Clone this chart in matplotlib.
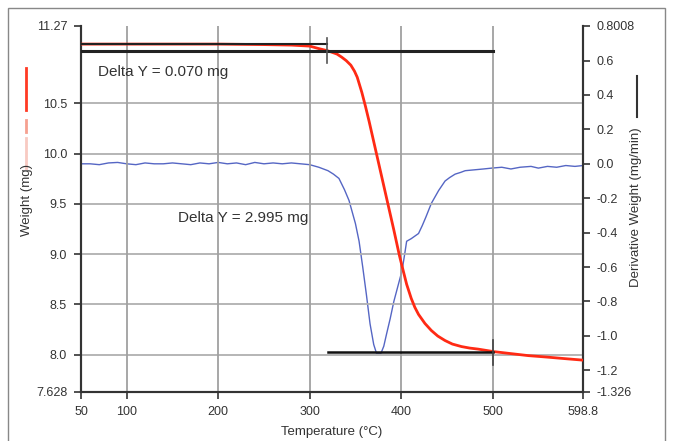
import matplotlib
matplotlib.use('Agg')
import matplotlib.pyplot as plt
from matplotlib.lines import Line2D
from matplotlib.patches import Rectangle

plt.rcParams['font.family'] = ['Liberation Sans', 'DejaVu Sans']

# weight curve (mg) vs temperature (C)
weight_temp = [50, 100, 150, 200, 250, 280, 300, 310, 319, 324, 330, 335, 340, 345, 349,
               352, 357, 361, 365, 368, 372, 379, 386, 392, 398, 401, 406, 411, 415,
               419, 426, 433, 440, 448, 456, 466, 475, 484, 501, 520, 539, 560, 579,
               598.8]
weight_mg = [11.09, 11.09, 11.09, 11.09, 11.085, 11.08, 11.07, 11.045, 11.025, 11.01,
             10.99, 10.96, 10.925, 10.88, 10.82, 10.76, 10.61, 10.47, 10.32, 10.20,
             10.04, 9.76, 9.48, 9.24, 8.99, 8.88, 8.70, 8.56, 8.47, 8.40, 8.31, 8.24,
             8.185, 8.14, 8.105, 8.08, 8.065, 8.055, 8.03, 8.01, 7.99, 7.975, 7.96,
             7.945]

# derivative weight curve (mg/min)
deriv_temp = [50, 60, 70, 80, 90, 100, 110, 120, 130, 140, 150, 160, 170, 180, 190,
              200, 210, 220, 230, 240, 250, 260, 270, 280, 290, 300, 310, 320, 326,
              332, 338, 343, 350, 354, 358, 362, 366, 370, 373, 378, 381, 384, 388,
              392, 397, 401, 404, 406, 411, 415, 419, 423, 427, 433, 441, 448, 453,
              459, 465, 470, 480, 490, 499, 510, 520, 530, 542, 550, 560, 570, 580,
              590, 598.8]
deriv_val = [0.00, 0.00, -0.005, 0.005, 0.008, 0.0, -0.005, 0.005, 0.0, 0.0, 0.005,
             0.0, -0.005, 0.005, 0.0, 0.008, 0.0, 0.005, -0.005, 0.008, 0.0, 0.005,
             0.0, 0.005, 0.0, -0.005, -0.02, -0.04, -0.06, -0.085, -0.15, -0.213,
             -0.347, -0.45, -0.60, -0.76, -0.93, -1.05, -1.10, -1.10, -1.06, -0.99,
             -0.90, -0.80, -0.70, -0.62, -0.52, -0.45, -0.435, -0.42, -0.405, -0.36,
             -0.31, -0.23, -0.155, -0.10, -0.08, -0.06, -0.05, -0.04, -0.035, -0.03,
             -0.025, -0.02, -0.03, -0.02, -0.015, -0.025, -0.015, -0.02, -0.01, -0.015,
             -0.01]

# delta Y markers
step1_temp = [50, 319]
step1_top = 11.09
step_base = 11.02
base_temp = [50, 500]
step2_temp = [320, 500]
step2_bottom = 8.025

x_ticks = [50, 100, 200, 300, 400, 500, 598.8]
x_labels = ['50', '100', '200', '300', '400', '500', '598.8']
w_ticks = [7.628, 8.0, 8.5, 9.0, 9.5, 10.0, 10.5, 11.27]
w_labels = ['7.628', '8.0', '8.5', '9.0', '9.5', '10.0', '10.5', '11.27']
d_ticks = [-1.326, -1.2, -1.0, -0.8, -0.6, -0.4, -0.2, 0.0, 0.2, 0.4, 0.6, 0.8008]
d_labels = ['-1.326', '-1.2', '-1.0', '-0.8', '-0.6', '-0.4', '-0.2', '0.0', '0.2',
            '0.4', '0.6', '0.8008']

txt = '#333333'
W, H = 673, 441
fig = plt.figure(figsize=(W / 100, H / 100), dpi=100)
ax = fig.add_axes([81 / W, 1 - 392 / H, 502 / W, 366 / H])
ax2 = ax.twinx()
ax.set_zorder(ax2.get_zorder() + 1)
ax.patch.set_visible(False)

ax.set_xlim(50, 598.8)
ax.set_ylim(7.628, 11.27)
ax2.set_ylim(-1.326, 0.8008)

# grid
for v in [8.0, 8.5, 9.0, 9.5, 10.0, 10.5]:
    ax.axhline(v, color='#b0b0b0', lw=1.3, zorder=0)
for v in [100, 200, 300, 400, 500]:
    ax.axvline(v, color='#a0a0a0', lw=1.3, zorder=0)

ax2.plot(deriv_temp, deriv_val, color='#5566c4', lw=1.0)
ax.plot(weight_temp, weight_mg, color='#ff2a14', lw=2.0, zorder=3)

# delta markers
ax.plot(step1_temp, [step1_top, step1_top], color='#222222', lw=1.5, zorder=4)
ax.plot(base_temp, [step_base, step_base], color='#222222', lw=2.2, zorder=4)
ax.plot([step1_temp[1]] * 2, [11.15, 10.90], color='#555555', lw=1.2, zorder=4)
ax.plot(step2_temp, [step2_bottom, step2_bottom], color='#111111', lw=1.8, zorder=4)
ax.plot([step2_temp[1]] * 2, [8.15, 7.90], color='#444444', lw=1.2, zorder=4)

ax.text(68.5, 10.81, 'Delta Y = 0.070 mg', fontsize=11, color=txt, va='center', ha='left')
ax.text(155.6, 9.36, 'Delta Y = 2.995 mg', fontsize=11, color=txt, va='center', ha='left')

ax.set_xticks(x_ticks)
ax.set_xticklabels(x_labels)
ax.set_yticks(w_ticks)
ax.set_yticklabels(w_labels)
ax2.set_yticks(d_ticks)
ax2.set_yticklabels(d_labels)

for a in (ax, ax2):
    a.tick_params(labelsize=9, labelcolor=txt, color='#333333', length=5, width=1.2,
                  direction='out', pad=5)
    a.spines['top'].set_visible(False)
    for s in ('left', 'right', 'bottom'):
        a.spines[s].set_color('#333333')
        a.spines[s].set_linewidth(1.5)

ax.set_xlabel('Temperature (°C)', fontsize=9.5, color=txt, labelpad=6)

fig.text(27 / W, 1 - 200 / H, 'Weight (mg)', rotation=90, fontsize=9.5, color=txt,
         ha='center', va='center')
fig.text(636 / W, 1 - 207 / H, 'Derivative Weight (mg/min)', rotation=90, fontsize=9.5,
         color=txt, ha='center', va='center')

# legend keys beside the axis titles
fig.add_artist(Line2D([26 / W, 26 / W], [1 - 68 / H, 1 - 110 / H], color='#ff3a24', lw=2))
fig.add_artist(Line2D([26 / W, 26 / W], [1 - 120 / H, 1 - 132 / H], color='#f6a090', lw=2))
fig.add_artist(Line2D([26 / W, 26 / W], [1 - 138 / H, 1 - 168 / H], color='#f8cac2', lw=2))
fig.add_artist(Line2D([637 / W, 637 / W], [1 - 76 / H, 1 - 117 / H], color='#333333', lw=1.5))

# outer frame
fig.add_artist(Rectangle((8 / W, -0.02), 657 / W, 1.02 - 8 / H, transform=fig.transFigure,
                         fill=False, edgecolor='#888888', lw=1.0))

plt.savefig('out.png', dpi=100)
